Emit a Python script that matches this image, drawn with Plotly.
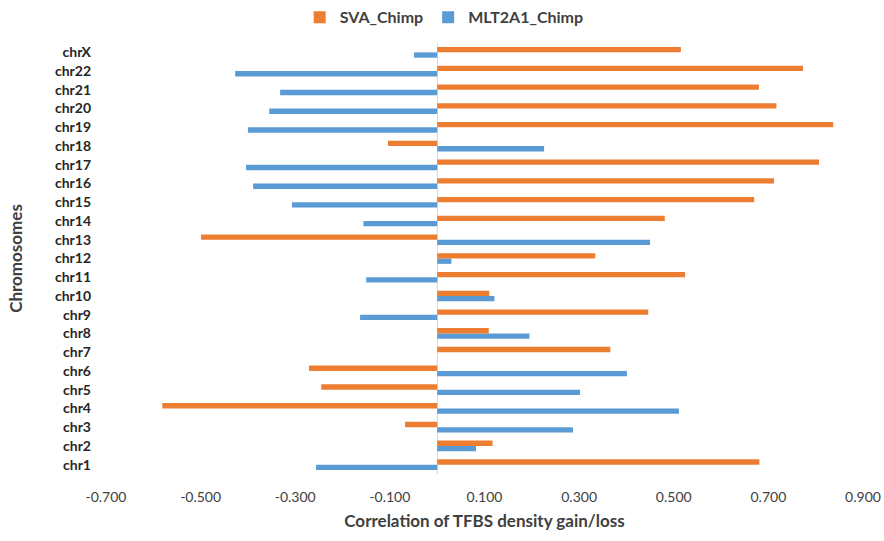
import plotly.graph_objects as go

# Chromosomes, bottom to top
chromosomes = ["chr1", "chr2", "chr3", "chr4", "chr5", "chr6", "chr7", "chr8",
               "chr9", "chr10", "chr11", "chr12", "chr13", "chr14", "chr15",
               "chr16", "chr17", "chr18", "chr19", "chr20", "chr21", "chr22", "chrX"]

sva_chimp = [0.681, 0.117, -0.068, -0.581, -0.245, -0.271, 0.366, 0.109,
             0.446, 0.110, 0.524, 0.334, -0.499, 0.481, 0.670,
             0.712, 0.807, -0.104, 0.837, 0.717, 0.680, 0.773, 0.515]

mlt2a1_chimp = [-0.256, 0.082, 0.287, 0.511, 0.302, 0.401, 0.0, 0.195,
                -0.163, 0.121, -0.150, 0.030, 0.450, -0.156, -0.307,
                -0.389, -0.404, 0.226, -0.400, -0.355, -0.332, -0.427, -0.049]

x_ticks = [-0.7, -0.5, -0.3, -0.1, 0.1, 0.3, 0.5, 0.7, 0.9]
x_tick_labels = ["-0.700", "-0.500", "-0.300", "-0.100", "0.100",
                 "0.300", "0.500", "0.700", "0.900"]

FONT = "Lato, Carlito, Calibri, sans-serif"
TEXT = "#404040"
ORANGE = "#ED7D31"
BLUE = "#5B9BD5"

fig = go.Figure()
# Blue series first so it sits below the orange bar in each group
fig.add_trace(go.Bar(y=chromosomes, x=mlt2a1_chimp, orientation="h",
                     name="MLT2A1_Chimp", marker=dict(color=BLUE, line_width=0),
                     legendrank=2))
fig.add_trace(go.Bar(y=chromosomes, x=sva_chimp, orientation="h",
                     name="SVA_Chimp", marker=dict(color=ORANGE, line_width=0),
                     legendrank=1))

fig.update_layout(
    width=884, height=541,
    margin=dict(l=106, r=21, t=43, b=67),
    paper_bgcolor="white", plot_bgcolor="white",
    barmode="group", bargap=0.43, bargroupgap=0,
    font=dict(family=FONT, color=TEXT, size=14),
    legend=dict(orientation="h", xref="container", x=0.339, xanchor="left",
                yref="container", y=0.9995, yanchor="top",
                font=dict(size=16, color=TEXT, weight="bold"), itemwidth=30,
                traceorder="normal", tracegroupgap=0),
    showlegend=True,
)

fig.update_xaxes(
    range=[-0.7, 0.9], tickvals=x_ticks, ticktext=x_tick_labels,
    automargin=False,
    showgrid=False, zeroline=True, zerolinecolor="#D9D9D9", zerolinewidth=1,
    showline=False, ticks="", ticklabelstandoff=13,
    tickfont=dict(size=14, color=TEXT),
    title=dict(text="Correlation of TFBS density gain/loss",
               font=dict(size=17, color=TEXT, weight="bold"), standoff=11),
)

fig.update_yaxes(
    type="category", categoryorder="array", categoryarray=chromosomes,
    range=[-0.5, 22.5], automargin=False,
    showgrid=False, showline=False, ticks="",
    ticklabelstandoff=14,
    tickfont=dict(size=14, color="#262626", weight="bold"),
    title=dict(text="Chromosomes", font=dict(size=17, color=TEXT, weight="bold"),
               standoff=27),
)

fig.write_html("out.html")
